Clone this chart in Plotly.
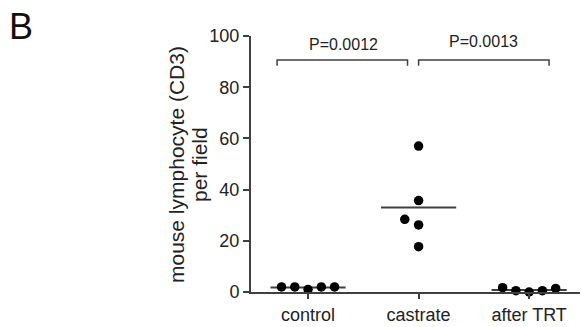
import numpy as np
import plotly.graph_objects as go

categories = ["control", "castrate", "after TRT"]
control = [2.0, 2.0, 1.0, 2.0, 2.0]
castrate = [57.0, 35.7, 28.4, 26.2, 17.7]
after_trt = [1.7, 0.5, 0.0, 0.5, 1.4]
y_ticks = [0, 20, 40, 60, 80, 100]
p_labels = ["P=0.0012", "P=0.0013"]
y_title_lines = ["mouse lymphocyte (CD3)", "per field"]
panel_label = "B"

groups = [control, castrate, after_trt]
# beeswarm offsets (layout only)
offsets = [
    [-0.24, -0.12, 0.0, 0.12, 0.24],
    [0.0, 0.0, -0.125, 0.0, 0.0],
    [-0.24, -0.12, 0.0, 0.12, 0.24],
]

FONT = "Liberation Sans, Arial, Helvetica, sans-serif"
fig = go.Figure()

for gi, (vals, offs) in enumerate(zip(groups, offsets)):
    m = float(np.mean(vals))
    fig.add_trace(go.Scatter(
        x=[gi - 0.34, gi + 0.34], y=[m, m], mode="lines",
        line=dict(color="#404040", width=2), showlegend=False,
        hoverinfo="skip", cliponaxis=False))
    fig.add_trace(go.Scatter(
        x=[gi + o for o in offs], y=vals, mode="markers",
        marker=dict(color="black", size=9.5), showlegend=False,
        cliponaxis=False))

# significance brackets
brackets = [(-0.28, 0.90, 90.6, 88.4), (1.0, 2.18, 90.6, 88.4)]
for (x0, x1, yt, yb) in brackets:
    fig.add_trace(go.Scatter(
        x=[x0, x0, x1, x1], y=[yb, yt, yt, yb], mode="lines",
        line=dict(color="#404040", width=1.5), showlegend=False,
        hoverinfo="skip", cliponaxis=False))

p_pos = [(0.32, 96.5), (1.59, 98.0)]
for (px, py), lab in zip(p_pos, p_labels):
    fig.add_annotation(x=px, y=py, text=lab, showarrow=False,
                       font=dict(family=FONT, size=16, color="#222"),
                       xanchor="center", yanchor="middle")

for shift, line in zip([-75, -52], y_title_lines):
    fig.add_annotation(xref="paper", yref="paper", x=0, xshift=shift, y=0.5,
                       yshift=-1, text=line, textangle=-90, showarrow=False,
                       font=dict(family=FONT, size=21, color="#222"),
                       xanchor="center", yanchor="middle")

fig.add_annotation(xref="paper", yref="paper", x=-0.699, y=1.039,
                   text=panel_label, showarrow=False,
                   font=dict(family=FONT, size=36, color="#111"),
                   xanchor="center", yanchor="middle")

fig.update_layout(
    width=582, height=327,
    margin=dict(l=251, r=2, t=36, b=35),
    plot_bgcolor="white", paper_bgcolor="white",
    font=dict(family=FONT, size=18, color="#222"),
)
fig.update_xaxes(
    range=[-0.516, 2.46], tickvals=[0, 1, 2], ticktext=categories,
    showgrid=False, zeroline=False, showline=True, linecolor="#404040",
    linewidth=2, ticks="outside", ticklen=5, tickwidth=1.5, tickcolor="#404040",
    tickfont=dict(family=FONT, size=18, color="#222"),
)
fig.update_yaxes(
    range=[0, 100], tickvals=y_ticks,
    showgrid=False, zeroline=False, showline=True, linecolor="#404040",
    linewidth=2, ticks="outside", ticklen=6, tickwidth=1.5, tickcolor="#404040",
    tickfont=dict(family=FONT, size=18, color="#222"),
)

fig.write_html("out.html", config={"displayModeBar": False},
               post_script="document.body.style.margin='0';")
